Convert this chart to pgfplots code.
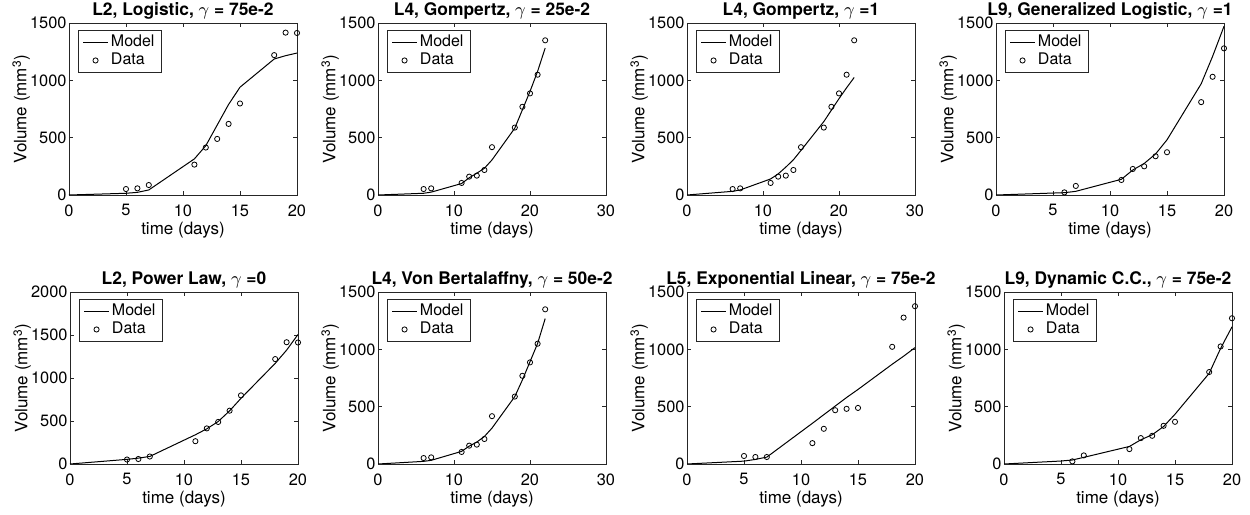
\documentclass[border=0pt]{standalone}
\usepackage{fontspec}
\setmainfont{TeX Gyre Heros}
\usepackage{pgfplots}
\pgfplotsset{compat=1.18}

\newcommand{\tickfont}{\fontsize{8.2}{10}\selectfont}
\newcommand{\legfont}{\fontsize{8}{9}\selectfont}
\pgfplotsset{
  panel/.style={
    scale only axis, width=114pt, height=86pt,
    xmin=0, ymin=0, ymax=1500,
    tick align=inside, tick pos=both,
    axis line style={black!85, line width=0.45pt},
    tick style={black!85, line width=0.45pt},
    major tick length=2pt,
    /pgf/number format/assume math mode=true,
    /pgf/number format/1000 sep={},
    scaled ticks=false,
    xticklabel={\tickfont\pgfmathprintnumber{\tick}},
    yticklabel={\tickfont\pgfmathprintnumber{\tick}},
    yticklabel style={inner sep=1pt},
    xticklabel style={inner sep=1.5pt, yshift=-3pt},
    xlabel={time (days)},
    ylabel={Volume (mm\textsuperscript{3})},
    label style={font=\fontsize{8.5}{10}\selectfont},
    xlabel style={yshift=2pt},
    ylabel style={yshift=-4.5pt},
    title style={font=\bfseries\fontsize{8.7}{10}\selectfont, yshift=-7.5pt},
    legend style={at={(0.04,0.96)}, anchor=north west, draw=black!85,
      line width=0.4pt, font=\legfont,
      inner xsep=2pt, inner ysep=1pt, row sep=-0.5pt,
      nodes={inner sep=1.2pt}},
    legend cell align=left,
    legend image code/.code={\draw[mark repeat=2,mark phase=2,#1] plot coordinates {(0cm,0cm)(0.22cm,0cm)(0.44cm,0cm)};},
  },
  model/.style={black, line width=0.5pt, mark=none},
  data/.style={black, only marks, mark=o, mark size=1.3pt, mark options={line width=0.4pt}},
}

\begin{document}
\begin{tikzpicture}
% top row
\begin{axis}[panel, at={(34.5pt,160pt)}, xmax=20, xtick={0,5,10,15,20}, ytick={0,500,1000,1500},
  title={L2, Logistic, $\gamma$ = 75e-2}]
\addplot[model] coordinates {(0,0) (5,15) (6,23) (7,44) (11,315) (12,430) (13,610) (14,790) (15,940) (18,1186) (19,1215) (20,1238)};
\addplot[data] coordinates {(5,52) (6,58) (7,87) (11,265) (12,414) (13,489) (14,620) (15,798) (18,1220) (19,1416) (20,1413)};
\legend{{\legfont Model}, {\legfont Data}}
\end{axis}

\begin{axis}[panel, at={(189pt,160pt)}, xmax=30, xtick={0,10,20,30}, ytick={0,500,1000,1500},
  title={L4, Gompertz, $\gamma$ = 25e-2}]
\addplot[model] coordinates {(0,0) (6,15) (7,25) (11,100) (12,150) (13,190) (14,233) (15,306) (18,583) (19,743) (20,903) (21,1078) (22,1282)};
\addplot[data] coordinates {(6,52) (7,58) (11,105) (12,160) (13,169) (14,218) (15,417) (18,588) (19,769) (20,886) (21,1049) (22,1349)};
\legend{{\legfont Model}, {\legfont Data}}
\end{axis}

\begin{axis}[panel, at={(343.5pt,160pt)}, xmax=30, xtick={0,10,20,30}, ytick={0,500,1000,1500},
  title={L4, Gompertz, $\gamma$ =1}]
\addplot[model] coordinates {(0,0) (6,32) (7,44) (11,140) (12,184) (13,243) (14,307) (15,389) (18,640) (19,740) (20,840) (21,935) (22,1025)};
\addplot[data] coordinates {(6,52) (7,58) (11,105) (12,160) (13,169) (14,218) (15,417) (18,588) (19,769) (20,886) (21,1049) (22,1349)};
\legend{{\legfont Model}, {\legfont Data}}
\end{axis}

\begin{axis}[panel, at={(498pt,160pt)}, xmax=20, xtick={0,5,10,15,20}, ytick={0,500,1000,1500},
  title={L9, Generalized Logistic, $\gamma$ =1}]
\addplot[model] coordinates {(0,0) (5,17) (6,20) (7,32) (11,137) (12,218) (13,275) (14,358) (15,481) (18,970) (19,1209) (20,1471)};
\addplot[data] coordinates {(6,23) (7,79) (11,131) (12,227) (13,250) (14,338) (15,373) (18,810) (19,1031) (20,1279)};
\legend{{\legfont Model}, {\legfont Data}}
\end{axis}

% bottom row
\begin{axis}[panel, at={(35pt,25.5pt)}, xmax=20, ymax=2000, xtick={0,5,10,15,20}, ytick={0,500,1000,1500,2000},
  title={L2, Power Law, $\gamma$ =0}]
\addplot[model] coordinates {(0,0) (5,54) (6,68) (7,88) (11,340) (12,409) (13,494) (14,618) (15,764) (18,1170) (19,1324) (20,1506)};
\addplot[data] coordinates {(5,52) (6,58) (7,87) (11,265) (12,414) (13,489) (14,620) (15,798) (18,1220) (19,1416) (20,1413)};
\legend{{\legfont Model}, {\legfont Data}}
\end{axis}

\begin{axis}[panel, at={(189pt,25.5pt)}, xmax=30, xtick={0,10,20,30}, ytick={0,500,1000,1500},
  title={L4, Von Bertalaffny, $\gamma$ = 50e-2}]
\addplot[model] coordinates {(0,0) (6,23) (7,32) (11,110) (12,156) (13,191) (14,240) (15,313) (18,588) (19,733) (20,892) (21,1051) (22,1268)};
\addplot[data] coordinates {(6,52) (7,58) (11,105) (12,160) (13,169) (14,218) (15,417) (18,588) (19,769) (20,886) (21,1049) (22,1349)};
\legend{{\legfont Model}, {\legfont Data}}
\end{axis}

\begin{axis}[panel, at={(343.5pt,25.5pt)}, xmax=20, xtick={0,5,10,15,20}, ytick={0,500,1000,1500},
  title={L5, Exponential Linear, $\gamma$ = 75e-2}]
\addplot[model] coordinates {(0,0) (5,25) (6,40) (7,60) (11,355) (12,430) (13,505) (14,580) (15,650) (18,870) (19,940) (20,1015)};
\addplot[data] coordinates {(5,70) (6,61) (7,61) (11,182) (12,307) (13,469) (14,481) (15,489) (18,1022) (19,1277) (20,1376)};
\legend{{\legfont Model}, {\legfont Data}}
\end{axis}

\begin{axis}[panel, at={(502pt,25.5pt)}, xmax=20, xtick={0,5,10,15,20}, ytick={0,500,1000,1500},
  title={L9, Dynamic C.C., $\gamma$ = 75e-2}]
\addplot[model] coordinates {(0,0) (5,26) (6,35) (7,58) (11,153) (12,211) (13,255) (14,327) (15,434) (18,791) (19,1008) (20,1196)};
\addplot[data] coordinates {(6,23) (7,75) (11,130) (12,226) (13,246) (14,333) (15,368) (18,802) (19,1025) (20,1271)};
\legend{{\legfont Model}, {\legfont Data}}
\end{axis}

\pgfresetboundingbox
\path[use as bounding box] (0pt,0pt) rectangle (625pt,257.5pt);
\end{tikzpicture}
\end{document}
